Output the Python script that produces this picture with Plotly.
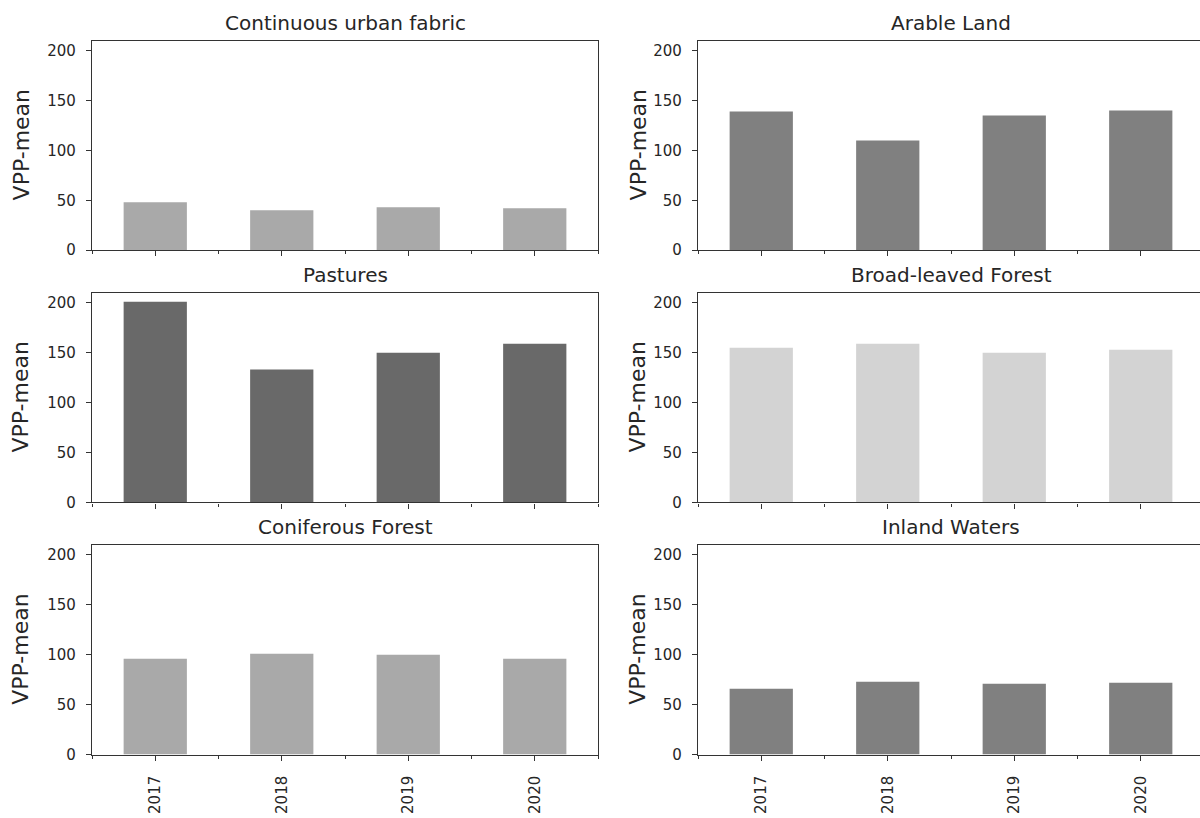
import plotly.graph_objects as go

years = ["2017", "2018", "2019", "2020"]
titles = ["Continuous urban fabric", "Arable Land", "Pastures",
          "Broad-leaved Forest", "Coniferous Forest", "Inland Waters"]
continuous_urban = [48, 40, 43, 42]
arable_land = [139, 110, 135, 140]
pastures = [201, 133, 150, 159]
broad_leaved = [155, 159, 150, 153]
coniferous = [96, 101, 100, 96]
inland_waters = [66, 73, 71, 72]
series = [continuous_urban, arable_land, pastures, broad_leaved, coniferous, inland_waters]
colors = ["#a9a9a9", "#808080", "#696969", "#d3d3d3", "#a9a9a9", "#808080"]
ytickvals = [0, 50, 100, 150, 200]
ylabel = "VPP-mean"

W, H = 1200, 818
FONT = "DejaVu Sans"
TXT = "#262626"
LINE = "#333333"

# pixel frames (left, right, top, bottom)
col_px = [(92, 598), (698, 1204)]
row_px = [(41, 253), (296, 508), (551, 763)]
ylabel_x = [21, 638]

fig = go.Figure()
layout = dict(width=W, height=H, margin=dict(l=0, r=0, t=0, b=0),
              plot_bgcolor="white", paper_bgcolor="white", showlegend=False,
              font=dict(family=FONT, color=TXT))
annotations = []
xpos = list(range(len(years)))

for i, (vals, col, title) in enumerate(zip(series, colors, titles)):
    r, c = divmod(i, 2)
    n = "" if i == 0 else str(i + 1)
    L, R = col_px[c]
    T, B = row_px[r]
    xr_right = min(R, W)
    frac = (xr_right - L) / (R - L)
    xdom = [L / W, xr_right / W]
    ydom = [1 - B / H, 1 - T / H]
    fig.add_trace(go.Bar(x=xpos, y=vals, marker=dict(color=col, line=dict(width=0)),
                         width=0.5, xaxis="x" + n, yaxis="y" + n))
    bottom = (r == 2)
    layout["xaxis" + n] = dict(
        domain=xdom, anchor="y" + n, range=[-0.5, -0.5 + 4 * frac],
        tickmode="array", tickvals=xpos, ticktext=years if bottom else [""] * 4,
        showticklabels=bottom, tickangle=-90, ticks="outside", ticklen=5,
        tickwidth=1, tickcolor=LINE, ticklabelstandoff=9,
        minor=dict(ticks="outside", ticklen=3, tickwidth=1, tickcolor=LINE,
                   tick0=-0.5, dtick=1, showgrid=False),
        showline=True, linecolor=LINE, linewidth=1.3, mirror=True,
        showgrid=False, zeroline=False,
        tickfont=dict(family=FONT, size=15, color=TXT))
    layout["yaxis" + n] = dict(
        domain=ydom, anchor="x" + n, range=[0, 210],
        tickmode="array", tickvals=ytickvals, ticks="outside", ticklen=5,
        tickwidth=1, tickcolor=LINE, ticklabelstandoff=7,
        showline=True, linecolor=LINE, linewidth=1.3, mirror=(c == 0),
        showgrid=False, zeroline=False,
        tickfont=dict(family=FONT, size=15, color=TXT))
    # subplot title
    annotations.append(dict(text=title, xref="paper", yref="paper",
                            x=(L + R) / 2 / W, y=1 - T / H, xanchor="center",
                            yanchor="bottom", yshift=4, showarrow=False,
                            font=dict(family=FONT, size=20, color=TXT)))
    # y label
    annotations.append(dict(text=ylabel, xref="paper", yref="paper",
                            x=ylabel_x[c] / W, y=1 - (T + B) / 2 / H, xanchor="center",
                            yanchor="middle", textangle=-90, showarrow=False,
                            font=dict(family=FONT, size=22, color=TXT)))

layout["annotations"] = annotations
fig.update_layout(**layout)
fig.write_html("out.html")
